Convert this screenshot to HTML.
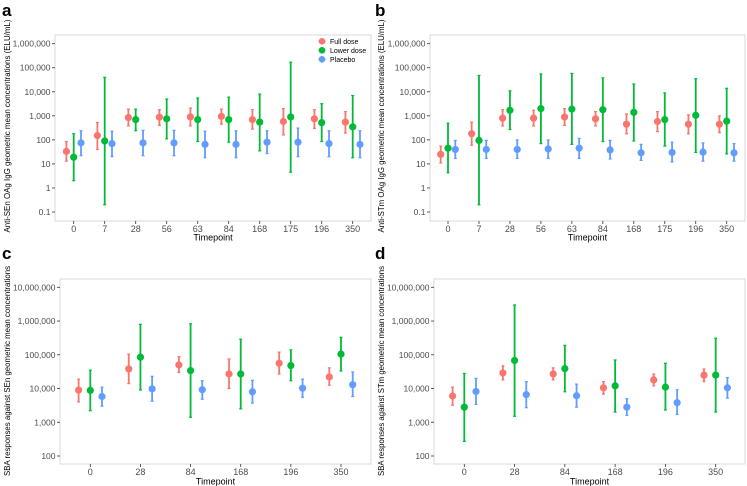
<!DOCTYPE html>
<html><head><meta charset="utf-8">
<style>
body{margin:0;background:#fff;}
svg{display:block;font-family:"Liberation Sans",Arial,sans-serif;}
</style></head>
<body>
<svg id="chart" width="747" height="486" viewBox="0 0 747 486"></svg>
<script>
// ---- data ----
const groups = ["Full dose","Lower dose","Placebo"];
const colors = ["#F8766D","#00BA38","#619CFF"];

const catsAB = ["0","7","28","56","63","84","168","175","196","350"];
const catsCD = ["0","28","84","168","196","350"];

const ticksAB = [0.1,1,10,100,1000,10000,100000,1000000];
const tickLabelsAB = ["0.1","1","10","100","1,000","10,000","100,000","1,000,000"];
const ticksCD = [100,1000,10000,100000,1000000,10000000];
const tickLabelsCD = ["100","1,000","10,000","100,000","1,000,000","10,000,000"];

// panel a
const aFullMean = [33,150,850,880,900,950,700,580,750,550];
const aFullLo   = [13,40,380,400,380,450,280,160,300,190];
const aFullHi   = [85,530,1900,1800,2100,1900,1800,2000,1800,1500];
const aLowMean  = [19,90,700,750,700,700,550,900,520,350];
const aLowLo    = [2,0.2,240,110,85,80,35,4.5,85,18];
const aLowHi    = [180,40000,1900,5000,5500,6000,8000,170000,3200,7000];
const aPlaMean  = [75,70,75,75,65,65,80,80,70,65];
const aPlaLo    = [22,20,22,22,18,18,27,20,20,18];
const aPlaHi    = [240,230,250,250,230,240,240,310,240,240];

// panel b
const bFullMean = [25,180,800,800,900,750,450,580,450,450];
const bFullLo   = [11,60,380,380,400,380,180,220,180,200];
const bFullHi   = [55,550,1800,1700,2000,1500,1200,1500,1100,1000];
const bLowMean  = [45,95,1700,2000,1900,1800,1400,700,1050,600];
const bLowLo    = [4.3,0.2,270,70,65,85,90,55,30,26];
const bLowHi    = [500,48000,11000,55000,58000,38000,21000,9000,35000,14000];
const bPlaMean  = [40,40,40,42,45,38,29,30,31,29];
const bPlaLo    = [17,17,17,17,17,16,14,12,13,13];
const bPlaHi    = [95,95,100,100,115,95,65,80,75,70];

// panel c
const cFullMean = [9000,38000,50000,27000,56000,22000];
const cFullLo   = [4000,14000,30000,10000,27000,12500];
const cFullHi   = [19000,105000,88000,75000,120000,41000];
const cLowMean  = [8800,85000,34000,27000,48000,105000];
const cLowLo    = [2200,9000,1400,2500,17000,33000];
const cLowHi    = [35000,800000,830000,290000,140000,330000];
const cPlaMean  = [5800,9800,9200,8000,10200,13000];
const cPlaLo    = [3000,4200,4800,3700,5500,5800];
const cPlaHi    = [11000,23000,17000,17500,19000,31000];

// panel d
const dFullMean = [6000,29000,27000,10500,18000,25000];
const dFullLo   = [3200,18000,18000,6800,12000,16000];
const dFullHi   = [11000,47000,41000,16000,27000,38000];
const dLowMean  = [2800,68000,39000,12000,11000,25000];
const dLowLo    = [270,1500,8000,2000,2300,2000];
const dLowHi    = [28000,3000000,190000,70000,56000,310000];
const dPlaMean  = [8200,6600,6100,2800,3800,10500];
const dPlaLo    = [3400,2700,2800,1600,1700,5200];
const dPlaHi    = [20000,16000,13500,5000,9200,21000];

// ---- drawing ----
const NS="http://www.w3.org/2000/svg";
const svg=document.getElementById('chart');
function mk(tag,attrs,parent){const e=document.createElementNS(NS,tag);for(const k in attrs)e.setAttribute(k,attrs[k]);(parent||svg).appendChild(e);return e;}

const panels=[
 {id:'a',letter:'a',lx:2,ly:16,box:[55,35,371,221],yTop:1000000,yTopPx:43.7,yBot:0.1,yBotPx:212,
  cats:catsAB,x0:73.7,x1:352.7,dodge:7.3,ticks:ticksAB,tl:tickLabelsAB,
  ytitle:"Anti-SEn OAg IgG geometric mean concentrations (ELU/mL)",yt:[10,126,213],
  series:[[aFullMean,aFullLo,aFullHi],[aLowMean,aLowLo,aLowHi],[aPlaMean,aPlaLo,aPlaHi]],legend:true,xt:240.5},
 {id:'b',letter:'b',lx:375,ly:16,box:[430,35,745,221],yTop:1000000,yTopPx:43.7,yBot:0.1,yBotPx:212,
  cats:catsAB,x0:448,x1:726.7,dodge:7.3,ticks:ticksAB,tl:tickLabelsAB,
  ytitle:"Anti-STm OAg IgG geometric mean concentrations (ELU/mL)",yt:[384,126,213],
  series:[[bFullMean,bFullLo,bFullHi],[bLowMean,bLowLo,bLowHi],[bPlaMean,bPlaLo,bPlaHi]],xt:240.5},
 {id:'c',letter:'c',lx:2,ly:259,box:[60,279,371,464],yTop:10000000,yTopPx:287.3,yBot:100,yBotPx:456,
  cats:catsCD,x0:90.3,x1:341,dodge:11.7,ticks:ticksCD,tl:tickLabelsCD,
  ytitle:"SBA responses against SEn geometric mean concentrations",yt:[10,371,210],
  series:[[cFullMean,cFullLo,cFullHi],[cLowMean,cLowLo,cLowHi],[cPlaMean,cPlaLo,cPlaHi]],xt:484.5},
 {id:'d',letter:'d',lx:375,ly:259,box:[434,279,745,464],yTop:10000000,yTopPx:287.3,yBot:100,yBotPx:456,
  cats:catsCD,x0:464.3,x1:715.7,dodge:11.7,ticks:ticksCD,tl:tickLabelsCD,
  ytitle:"SBA responses against STm geometric mean concentrations",yt:[384,371,210],
  series:[[dFullMean,dFullLo,dFullHi],[dLowMean,dLowLo,dLowHi],[dPlaMean,dPlaLo,dPlaHi]],xt:484.5}
];

panels.forEach(p=>{
 const g=mk('g',{});
 
 
 const lt=mk('text',{x:p.lx,y:p.ly,'font-size':17,'font-weight':'bold',fill:'#000'},g);
 lt.textContent=p.letter;
 
 
 const [bx0,by0,bx1,by1]=p.box;
 const frame=mk('rect',{x:bx0,y:by0,width:bx1-bx0,height:by1-by0,fill:'#fff',stroke:'#d9d9d9','stroke-width':1},g);
 
 
 const lTop=Math.log10(p.yTop), lBot=Math.log10(p.yBot);
 const Y=v=>p.yTopPx+(lTop-Math.log10(v))/(lTop-lBot)*(p.yBotPx-p.yTopPx);
 const n=p.cats.length;
 const X=i=>p.x0+i*(p.x1-p.x0)/(n-1);
 p.ticks.forEach((t,i)=>{
  const y=Y(t);
  const tk=mk('line',{x1:bx0-3,x2:bx0,y1:y,y2:y,stroke:'#333','stroke-width':0.8},g);
  
  
  const tx=mk('text',{x:bx0-4.5,y:y+3,'font-size':8.5,fill:'#4d4d4d','text-anchor':'end'},g);
  tx.textContent=p.tl[i];
  
  
 });
 p.cats.forEach((c,i)=>{
  const x=X(i);
  const tk=mk('line',{x1:x,x2:x,y1:by1,y2:by1+3,stroke:'#333','stroke-width':0.8},g);
  
  
  const tx=mk('text',{x:x,y:by1+10.8,'font-size':9,fill:'#4d4d4d','text-anchor':'middle'},g);
  tx.textContent=c;
  
  
 });
 const xt=mk('text',{x:(bx0+bx1)/2,y:p.xt,'font-size':9,fill:'#000','text-anchor':'middle'},g);
 xt.textContent='Timepoint';
 
 
 const yt=mk('text',{x:0,y:0,'font-size':8,fill:'#000','text-anchor':'middle',textLength:p.yt[2],lengthAdjust:'spacingAndGlyphs',transform:`translate(${p.yt[0]},${p.yt[1]}) rotate(-90)`},g);
 yt.textContent=p.ytitle;
 
 
 p.series.forEach((s,gi)=>{
  const [mean,lo,hi]=s;
  mean.forEach((m,i)=>{
   const x=X(i)+(gi-1)*p.dodge;
   const eb=mk('line',{x1:x,x2:x,y1:Y(lo[i]),y2:Y(hi[i]),stroke:colors[gi],'stroke-width':1.8},g);
   
   
   [lo[i],hi[i]].forEach(v=>{
    const cp=mk('line',{x1:x-1.5,x2:x+1.5,y1:Y(v),y2:Y(v),stroke:colors[gi],'stroke-width':1.2},g);
    
    
   });
   const pt=mk('circle',{cx:x,cy:Y(m),r:3.6,fill:colors[gi]},g);
   
   
  });
 });
 if(p.legend){
  groups.forEach((gname,gi)=>{
   const y=41.3+gi*9;
   const lg=mk('g',{},g);
   
   
   mk('line',{x1:318.5,x2:325.5,y1:y,y2:y,stroke:colors[gi],'stroke-width':1.5},lg);
   mk('circle',{cx:322,cy:y,r:3.3,fill:colors[gi]},lg);
   const t=mk('text',{x:330,y:y+2.5,'font-size':7,fill:'#000'},lg);
   t.textContent=gname;
  });
 }
});
</script>
</body></html>
